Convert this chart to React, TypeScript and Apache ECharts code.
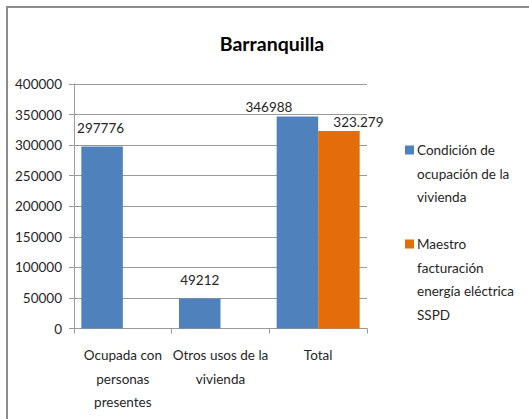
import React, { useEffect, useRef } from "react";
import * as echarts from "echarts";

const title = "Barranquilla";
const categories = ["Ocupada con\npersonas\npresentes", "Otros usos de la\nvivienda", "Total"];
const seriesNames = ["Condición de\nocupación de la\nvivienda", "Maestro\nfacturación\nenergía eléctrica\nSSPD"];
const ocupacion = [297776, 49212, 346988];
const maestro: (number | null)[] = [null, null, 323279];
const yTicks = { min: 0, max: 400000, interval: 50000 };
const colors = ["#4F81BD", "#E46C0A"];

const FONT = "Lato, 'Open Sans', sans-serif";
const FS = 13.5;
const TXT = "#262626";

const blueOffsets = [[-1.5, -9.2], [0, -9.4], [-28.5, -0.4]];
const orangeOffsets = [[0, 0], [0, 0], [19.5, 0.6]];

function fmtDots(v: number) {
  return String(v).replace(/\B(?=(\d{3})+(?!\d))/g, ".");
}

export default function App() {
  const ref = useRef<HTMLDivElement>(null);
  useEffect(() => {
    if (!ref.current) return;
    const chart = echarts.init(ref.current, undefined, { renderer: "svg" });
    const legendGraphics: any[] = [];
    const legendTops = [150, 244];
    seriesNames.forEach((name, i) => {
      legendGraphics.push({
        type: "rect",
        shape: { x: 405, y: legendTops[i] - 4.5, width: 9, height: 9 },
        style: { fill: colors[i] },
      });
      legendGraphics.push({
        type: "text",
        x: 417,
        y: legendTops[i] - 11.75,
        style: {
          text: name,
          fill: TXT,
          font: `${FS}px ${FONT}`,
          lineHeight: 23.5,
          verticalAlign: "top",
          align: "left",
        },
      });
    });
    chart.setOption({
      animation: false,
      backgroundColor: "#ffffff",
      title: {
        text: title,
        left: 267,
        top: 28,
        textAlign: "center",
        textStyle: { fontFamily: FONT, fontWeight: "bold", fontSize: 19.5, color: "#000" },
      },
      grid: { left: 74, top: 84, width: 293, height: 244.5, containLabel: false },
      xAxis: {
        type: "category",
        data: categories,
        axisLine: { lineStyle: { color: "#9a9a9a", width: 1 } },
        axisTick: { show: true, length: 5, lineStyle: { color: "#9a9a9a" } },
        axisLabel: {
          color: TXT,
          fontFamily: FONT,
          fontSize: FS,
          lineHeight: 23.5,
          margin: 15,
          interval: 0,
        },
      },
      yAxis: {
        type: "value",
        min: yTicks.min,
        max: yTicks.max,
        interval: yTicks.interval,
        axisLine: { show: true, lineStyle: { color: "#9a9a9a" } },
        axisTick: { show: true, length: 5, lineStyle: { color: "#9a9a9a" } },
        splitLine: { show: true, lineStyle: { color: "#9a9a9a", width: 1 } },
        axisLabel: {
          color: TXT,
          fontFamily: FONT,
          fontSize: FS,
          margin: 12,
          formatter: (v: number) => String(v),
        },
      },
      series: [
        {
          name: seriesNames[0],
          type: "bar",
          barGap: "0%",
          barCategoryGap: "15%",
          itemStyle: { color: colors[0] },
          data: ocupacion.map((v, i) => ({
            value: v,
            label: { offset: blueOffsets[i] },
          })),
          label: {
            show: true,
            position: "top",
            distance: 0,
            color: TXT,
            fontFamily: FONT,
            fontSize: FS,
            lineHeight: 18,
          },
        },
        {
          name: seriesNames[1],
          type: "bar",
          itemStyle: { color: colors[1] },
          data: maestro.map((v, i) => ({
            value: v,
            label: { offset: orangeOffsets[i] },
          })),
          label: {
            show: true,
            position: "top",
            distance: 0,
            color: TXT,
            fontFamily: FONT,
            fontSize: FS,
            lineHeight: 18,
            formatter: (p: any) => (p.value == null ? "" : fmtDots(p.value)),
          },
        },
      ],
      graphic: [
        {
          type: "rect",
          shape: { x: 7, y: 7, width: 600, height: 600 },
          style: { fill: "none", stroke: "#8c8c8c", lineWidth: 2 },
          silent: true,
        },
        ...legendGraphics,
      ],
    });
    return () => chart.dispose();
  }, []);
  return (
    <div
      ref={ref}
      style={{ position: "absolute", left: 0, top: 0, width: 529, height: 419 }}
    />
  );
}
